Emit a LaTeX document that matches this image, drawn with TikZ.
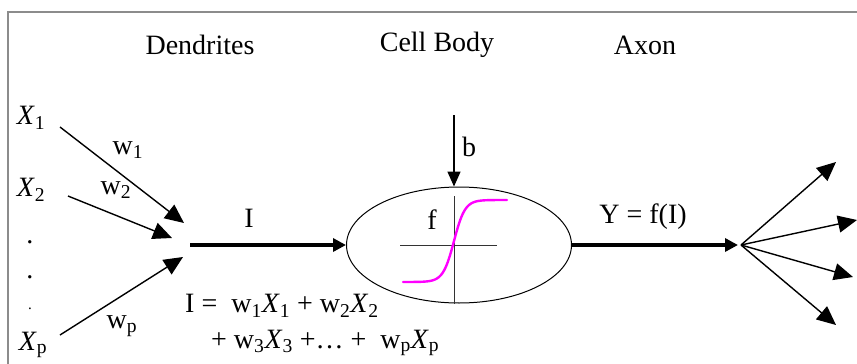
\documentclass[tikz,border=0pt]{standalone}
\usepackage{fontspec}
\setmainfont{Liberation Serif}
\usetikzlibrary{arrows.meta,shapes.geometric}
\newcommand{\sub}[1]{\textsubscript{#1}}
\definecolor{sigcol}{RGB}{255,0,255}
\begin{document}
\begin{tikzpicture}[x=1pt,y=-1pt,
  font=\fontsize{28}{32}\selectfont,
  lbl/.style={inner sep=0pt},
  thinarrow/.style={line width=1.4pt,-{Triangle[length=19pt,width=17pt]}},
  thickarrow/.style={line width=4.5pt,-{Triangle[length=13pt,width=13pt]}},
  frameline/.style={draw=gray!90,line width=1.6pt}]
\useasboundingbox (0,0) rectangle (857,364);
% frame
\draw[frameline] (8,364) -- (8,12) -- (857,12);
% headings
\node[lbl] (hd) at (200,45) {Dendrites};
\node[lbl] (hc) at (437,45) {Cell Body};
\node[lbl] (ha) at (645,45) {Axon};
% inputs
\node[lbl] (x1) at (31,118) {\textit{X}\sub{1}};
\node[lbl] (x2) at (31,190) {\textit{X}\sub{2}};
\node[lbl] (d1) at (30,242) {.};
\node[lbl] (d2) at (30,277) {.};
\node[lbl,font=\fontsize{15}{16}\selectfont] (d3) at (30,309) {.};
\node[lbl] (xp) at (33,345) {\textit{X}\sub{p}};
% weight labels
\node[lbl] (w1) at (128,150) {w\sub{1}};
\node[lbl] (w2) at (116,190) {w\sub{2}};
\node[lbl] (wp) at (122,326) {w\sub{p}};
% dendrite arrows
\coordinate (s1) at (60,127);
\coordinate (e1) at (184,223);
\coordinate (s2) at (68,196);
\coordinate (e2) at (172,238);
\coordinate (sp) at (60,335);
\coordinate (ep) at (183,257);
\draw[thinarrow] (s1) -- (e1);
\draw[thinarrow] (s2) -- (e2);
\draw[thinarrow] (sp) -- (ep);
% cell body
\node[draw,line width=1pt,ellipse,minimum width=225pt,minimum height=116pt,inner sep=0pt] (body) at (459,245) {};
% input arrow I
\coordinate (istart) at (190,245);
\draw[thickarrow] (istart) -- (body.west);
\node[lbl] (ilab) at (249,218) {I};
% bias
\coordinate (bstart) at (454,115);
\draw[line width=1.6pt,-{Triangle[length=15pt,width=13pt]}] (bstart) -- (body.north -| bstart);
\node[lbl] (blab) at (469,147) {b};
% activation axes
\coordinate (hax1) at (400,245);
\coordinate (hax2) at (497,245);
\coordinate (vax1) at (454,196);
\draw[line width=1pt,black!80] (hax1) -- (hax2);
\draw[line width=1pt,black!80] (vax1) -- (body.south -| vax1);
\draw[sigcol,line width=2.4pt,line cap=round] plot[domain=-51:53,samples=120,smooth] ({454+\x},{241-41*tanh(\x/11)});
\node[lbl] (flab) at (432,220) {f};
% output arrow
\coordinate (fan) at (738,245);
\draw[thickarrow] (body.east) -- (fan);
\node[lbl] (ylab) at (643,217) {Y = f(I)};
% axon fan
\coordinate (fs) at (741,245);
\coordinate (o1) at (836,162);
\coordinate (o2) at (857,220);
\coordinate (o3) at (853,277);
\coordinate (o4) at (836,325);
\draw[thinarrow] (fs) -- (o1);
\draw[thinarrow] (fs) -- (o2);
\draw[thinarrow] (fs) -- (o3);
\draw[thinarrow] (fs) -- (o4);
% formula
\node[lbl,anchor=west] (eq1) at (185,306) {I =\ \ w\sub{1}\textit{X}\sub{1} + w\sub{2}\textit{X}\sub{2}};
\node[lbl,anchor=west] (eq2) at (211,343) {+ w\sub{3}\textit{X}\sub{3} +\ldots\ + \ w\sub{p}\textit{X}\sub{p}};
\end{tikzpicture}
\end{document}
